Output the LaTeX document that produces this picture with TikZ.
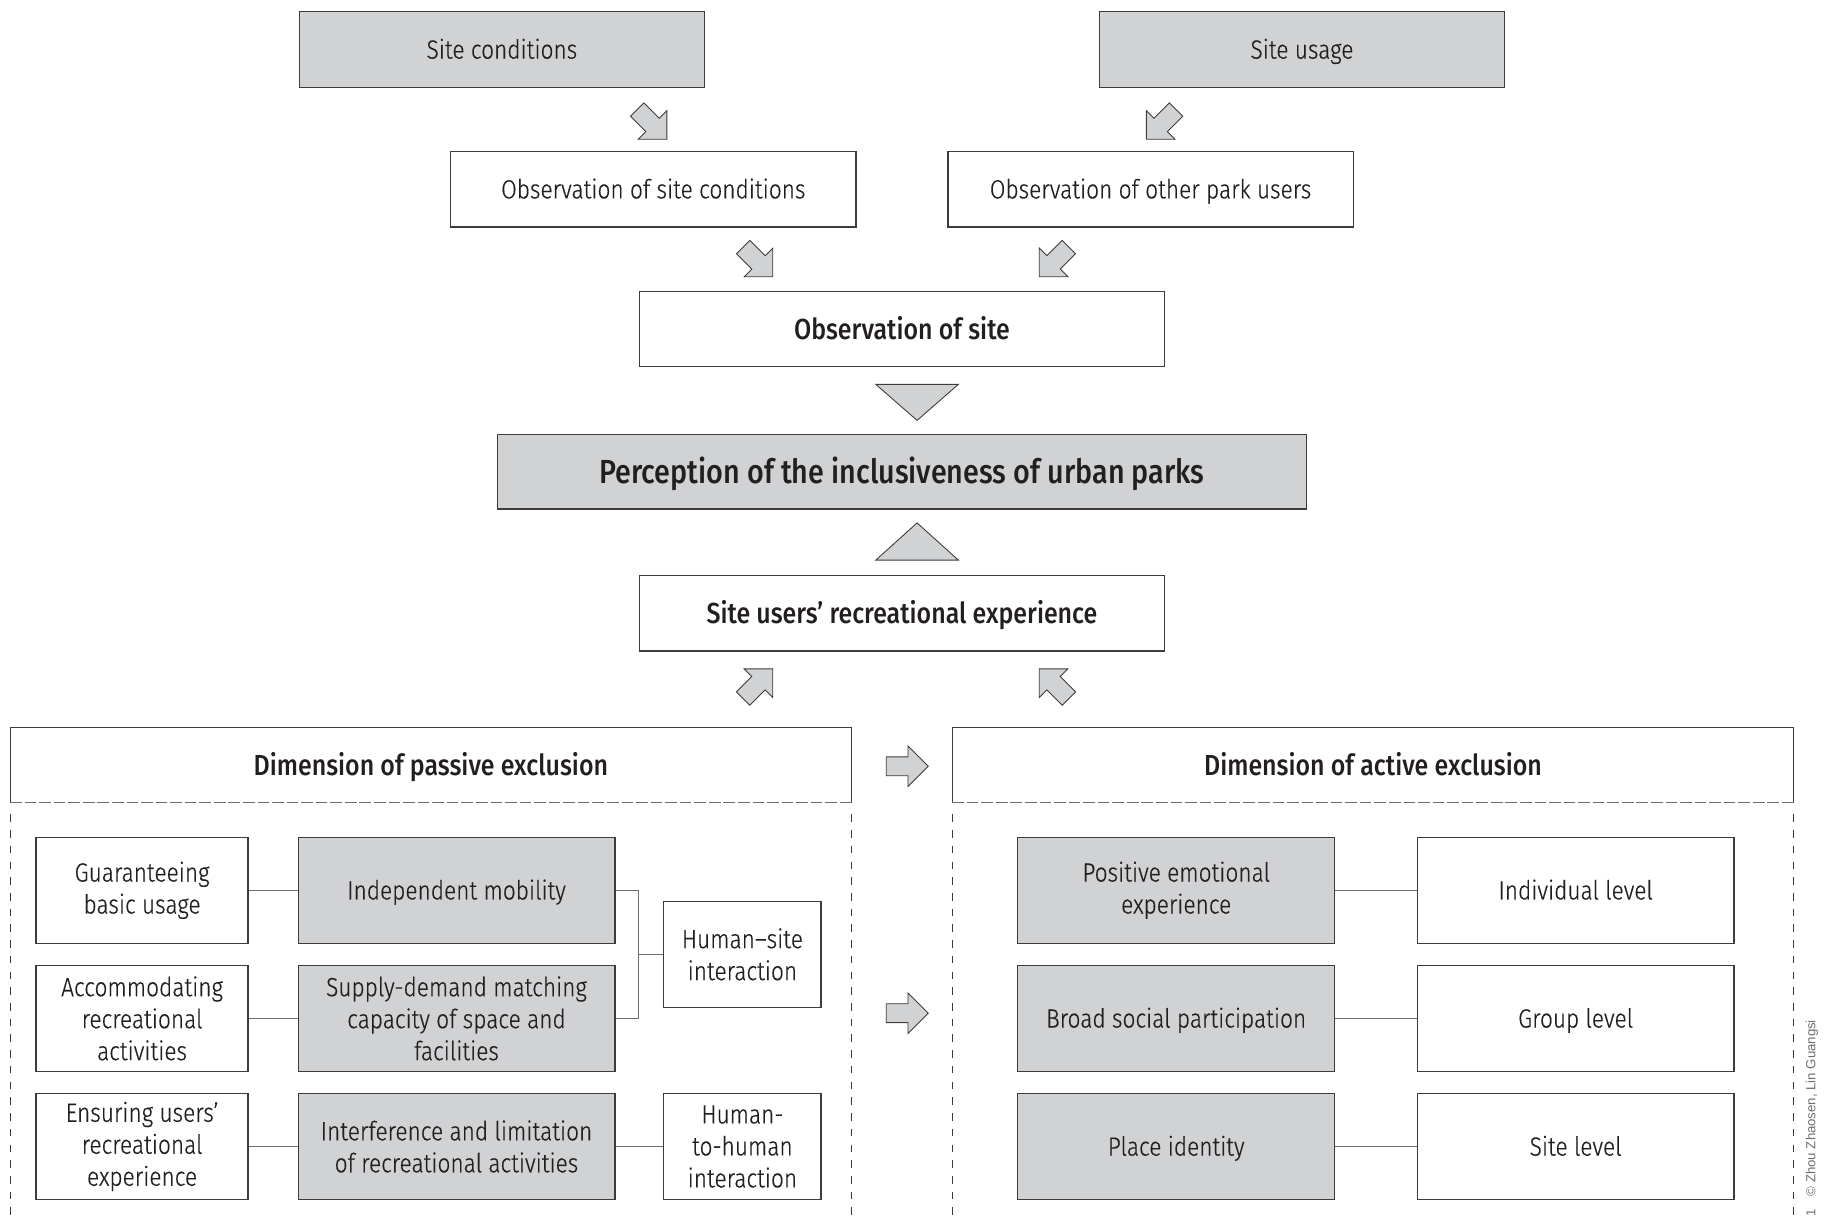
\documentclass[tikz,border=0pt]{standalone}
\usepackage{fontspec}
\setmainfont{Fira Sans Light}[FakeStretch=0.86, FakeBold=0.4]
\newfontfamily\titlefont{Fira Sans Medium}[FakeStretch=0.86]
\newfontfamily\notefont{Liberation Sans}
\usetikzlibrary{shapes.arrows}
\newlength\pxu
\setlength\pxu{0.2329mm}
\definecolor{boxgray}{HTML}{D1D2D4}
\definecolor{linegray}{HTML}{3C3C3C}
\definecolor{textgray}{HTML}{231F20}
\definecolor{linkgray}{HTML}{6D6E70}
\tikzset{
  box/.style={draw=linegray, line width=0.7pt, align=center, inner sep=0pt},
  graybox/.style={box, fill=boxgray},
  oneline/.style={text height=10.4pt, text depth=0pt},
  wide/.style={minimum width=348\pxu, minimum height=65\pxu},
  mid/.style={minimum width=451\pxu, minimum height=65\pxu},
  cell/.style={minimum width=272\pxu, minimum height=91\pxu},
  leftcell/.style={minimum width=182\pxu, minimum height=91\pxu},
  endcell/.style={minimum width=135\pxu, minimum height=91\pxu},
  title/.style={font=\titlefont\fontsize{16.5}{20}\selectfont, text height=11.4pt, text depth=0pt},
  blockarrow/.style={single arrow, draw=linegray, fill=boxgray, line width=0.5pt,
    inner xsep=0pt, inner ysep=7.75\pxu, minimum height=36\pxu,
    single arrow head extend=9.25\pxu},
  link/.style={draw=linkgray, line width=0.7pt},
  headline/.style={draw=linkgray, line width=0.7pt, dash pattern=on 10\pxu off 2.5\pxu},
  panelside/.style={draw=linegray, line width=0.6pt, dash pattern=on 6.5\pxu off 7\pxu},
}
\begin{document}
\begin{tikzpicture}[x=\pxu, y=-\pxu, text=textgray, font=\fontsize{15}{18.2}\selectfont]
  %ramme
  	\useasboundingbox (0,0) rectangle (1568,1048);
  	\coordinate (bottom) at (0,1048);

  %site
  	\node[graybox, wide, oneline] (sitecond) at (431,42.5) {Site conditions};
  	\node[graybox, wide, oneline] (siteuse) at (1118,42.5) {Site usage};
  	\node[box, wide, oneline] (obscond) at (561,162.5) {Observation of site conditions};
  	\node[box, wide, oneline] (obsusers) at (988,162.5) {Observation of other park users};
  	\node[box, mid, title] (obssite) at (774.5,282.5) {Observation of site};

  %pile ned
  	\node[blockarrow, rotate=-45] (a1) at (557,104) {};
  	\node[blockarrow, rotate=-135] (a2) at (1000,104) {};
  	\node[blockarrow, rotate=-45] (a3) at (648,222) {};
  	\node[blockarrow, rotate=-135] (a4) at (908,222) {};

  %perception
  	\filldraw[fill=boxgray, draw=linegray, line width=0.5pt] (752,330) -- (823,330) -- (787.5,361) -- cycle;
  	\node[graybox, minimum width=695\pxu, minimum height=64\pxu, title, font=\titlefont\fontsize{19}{22}\selectfont, text height=13.1pt] (percep) at (774.5,405) {Perception of the inclusiveness of urban parks};
  	\filldraw[fill=boxgray, draw=linegray, line width=0.5pt] (752,481) -- (823,481) -- (787.5,449) -- cycle;
  	\node[box, mid, title] (users) at (774.5,526.5) {Site users’ recreational experience};

  %pile op
  	\node[blockarrow, rotate=45] (a5) at (648,590) {};
  	\node[blockarrow, rotate=135] (a6) at (908,590) {};
  	\node[blockarrow] (a7) at (775,658) {};
  	\node[blockarrow] (a8) at (775,870) {};

  %passive exclusion
  	\node[title, minimum width=722\pxu, minimum height=64\pxu, inner sep=0pt] (passive) at (370,657) {Dimension of passive exclusion};
  	\draw[linegray, line width=0.7pt] (passive.south west) -- (passive.north west) -- (passive.north east) -- (passive.south east);
  	\draw[headline] (passive.south west) -- (passive.south east);
  	\draw[panelside] ([yshift=-10\pxu]passive.south west) -- (passive.south west |- bottom);
  	\draw[panelside] ([yshift=-10\pxu]passive.south east) -- (passive.south east |- bottom);

  	\node[box, leftcell] (g1) at (122,764.5) {Guaranteeing\\basic usage};
  	\node[box, leftcell] (g2) at (122,874.5) {Accommodating\\recreational\\activities};
  	\node[box, leftcell] (g3) at (122,984.5) {Ensuring users’\\recreational\\experience};
  	\node[graybox, cell, oneline] (m1) at (392,764.5) {Independent mobility};
  	\node[graybox, cell] (m2) at (392,874.5) {Supply-demand matching\\capacity of space and\\facilities};
  	\node[graybox, cell] (m3) at (392,984.5) {Interference and limitation\\of recreational activities};
  	\node[box, endcell] (hs) at (637.5,819.5) {Human--site\\interaction};
  	\node[box, endcell] (hh) at (637.5,984.5) {Human-\\to-human\\interaction};
  	\coordinate (brk) at (548,819.5);

  	\draw[link] (g1) -- (m1);
  	\draw[link] (g2) -- (m2);
  	\draw[link] (g3) -- (m3);
  	\draw[link] (m1.east) -| (brk) |- (m2.east);
  	\draw[link] (brk) -- (hs);
  	\draw[link] (m3) -- (hh);

  %active exclusion
  	\node[title, minimum width=722\pxu, minimum height=64\pxu, inner sep=0pt] (active) at (1179,657) {Dimension of active exclusion};
  	\draw[linegray, line width=0.7pt] (active.south west) -- (active.north west) -- (active.north east) -- (active.south east);
  	\draw[headline] (active.south west) -- (active.south east);
  	\draw[panelside] ([yshift=-10\pxu]active.south west) -- (active.south west |- bottom);
  	\draw[panelside] ([yshift=-10\pxu]active.south east) -- (active.south east |- bottom);

  	\node[graybox, cell] (p1) at (1010,764.5) {Positive emotional\\experience};
  	\node[graybox, cell, oneline] (p2) at (1010,874.5) {Broad social participation};
  	\node[graybox, cell, oneline] (p3) at (1010,984.5) {Place identity};
  	\node[box, cell, oneline] (l1) at (1353,764.5) {Individual level};
  	\node[box, cell, oneline] (l2) at (1353,874.5) {Group level};
  	\node[box, cell, oneline] (l3) at (1353,984.5) {Site level};

  	\draw[link] (p1) -- (l1);
  	\draw[link] (p2) -- (l2);
  	\draw[link] (p3) -- (l3);

  %kreditering
  	\node[rotate=90, anchor=west, inner sep=0pt, text=linkgray, font=\notefont\fontsize{7.5}{8}\selectfont] (credit) at (1556,1045) {1\quad © Zhou Zhaosen, Lin Guangsi};
\end{tikzpicture}
\end{document}
